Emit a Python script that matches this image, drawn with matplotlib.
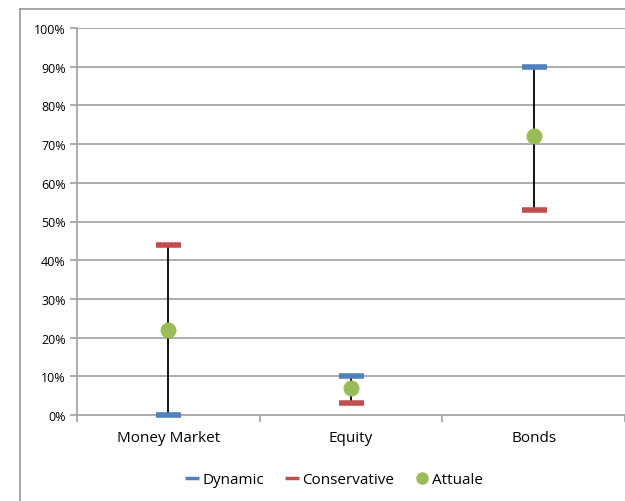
import matplotlib
matplotlib.use("Agg")
import matplotlib.pyplot as plt
from matplotlib.lines import Line2D
from matplotlib.ticker import FuncFormatter

categories = ["Money Market", "Equity", "Bonds"]
dynamic = [0, 10, 90]
conservative = [44, 3, 53]
attuale = [22, 7, 72]

plt.rcParams['font.family'] = ['Open Sans', 'DejaVu Sans']

W, H = 625, 502
fig = plt.figure(figsize=(W / 100, H / 100), dpi=100)

# chart frame (left and top edges)
frame_c = "#9a9a9a"
fig.add_artist(Line2D([19.5 / W, 19.5 / W], [0, 1 - 9.5 / H], transform=fig.transFigure,
                      color=frame_c, linewidth=1.2))
fig.add_artist(Line2D([19.5 / W, 1], [1 - 9.5 / H, 1 - 9.5 / H], transform=fig.transFigure,
                      color=frame_c, linewidth=1.2))

ax = fig.add_axes([77 / W, 1 - 416 / H, 1 - 77 / W, (416 - 29) / H])
x = list(range(len(categories)))

grid_c = "#a6a6a6"
for v in range(10, 101, 10):
    ax.axhline(v, color=grid_c, linewidth=1.3, zorder=1)

for xi, a, b in zip(x, dynamic, conservative):
    ax.plot([xi, xi], [min(a, b), max(a, b)], color="black", linewidth=1.3, zorder=2)

ax.plot(x, dynamic, linestyle="none", marker="_", markersize=18,
        markeredgewidth=4, color="#4f81bd", zorder=3, clip_on=False)
ax.plot(x, conservative, linestyle="none", marker="_", markersize=18,
        markeredgewidth=4, color="#c0504d", zorder=3, clip_on=False)
ax.plot(x, attuale, linestyle="none", marker="o", markersize=11.5,
        color="#9bbb59", markeredgewidth=0, zorder=4)

ax.set_xlim(-0.5, len(categories) - 0.5)
ax.set_ylim(0, 100)
ax.set_yticks(range(0, 101, 10))
ax.yaxis.set_major_formatter(FuncFormatter(lambda v, p: f"{int(v)}%"))
ax.set_xticks([i - 0.5 for i in range(len(categories) + 1)])
ax.set_xticklabels([])
ax.set_xticks(x, minor=True)
ax.set_xticklabels(categories, minor=True, fontsize=11)
ax.tick_params(axis="x", which="minor", length=0, pad=11)
ax.tick_params(axis="x", which="major", length=5, color=grid_c, width=1.3)
ax.tick_params(axis="y", length=5, color=grid_c, width=1.3, labelsize=9, pad=3)

for s in ["top", "right"]:
    ax.spines[s].set_visible(False)
ax.spines["left"].set_color(grid_c)
ax.spines["left"].set_linewidth(1.3)
ax.spines["bottom"].set_color(grid_c)
ax.spines["bottom"].set_linewidth(1.3)

handles = [
    Line2D([], [], linestyle="none", marker="_", markersize=10, markeredgewidth=2.5, color="#4f81bd"),
    Line2D([], [], linestyle="none", marker="_", markersize=10, markeredgewidth=2.5, color="#c0504d"),
    Line2D([], [], linestyle="none", marker="o", markersize=9, markeredgewidth=0, color="#9bbb59"),
]
fig.legend(handles, ["Dynamic", "Conservative", "Attuale"], loc="center",
           bbox_to_anchor=(335 / W, 1 - 481 / H), ncol=3, frameon=False,
           fontsize=11, handlelength=0.7, handletextpad=0.3, columnspacing=1.5)

fig.savefig("out.png", dpi=100)
